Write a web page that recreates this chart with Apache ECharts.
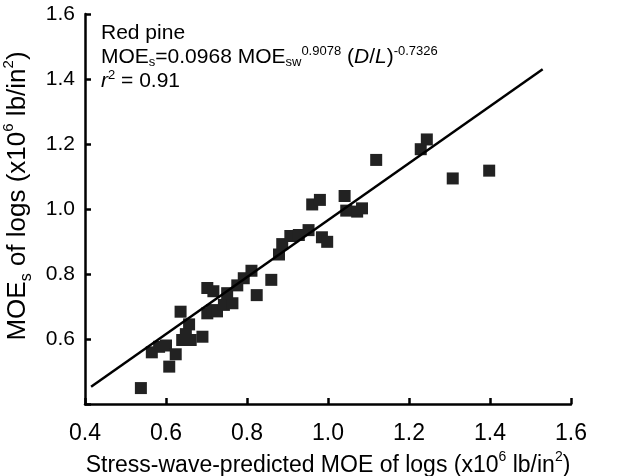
<!DOCTYPE html>
<html><head><meta charset="utf-8">
<script src="https://cdn.jsdelivr.net/npm/echarts@6/dist/echarts.min.js"></script>
<style>html,body{margin:0;padding:0;background:#fff}#c{width:619px;height:476px}</style>
</head><body><div id="c"></div>
<script>
// Stress-wave predicted MOE, x10^6 lb/in^2
const predictedMOE = [0.538,0.608,0.565,0.583,0.600,0.624,0.636,0.657,0.649,0.640,0.661,0.690,0.702,0.702,0.717,0.714,0.726,0.743,0.764,0.751,0.776,0.792,0.811,0.824,0.860,0.879,0.887,0.907,0.928,0.952,0.961,0.980,0.985,0.998,1.041,1.045,1.072,1.084,1.119,1.229,1.244,1.308,1.398];
// Static MOE of logs, x10^6 lb/in^2
const staticMOE = [0.449,0.515,0.559,0.576,0.580,0.553,0.684,0.645,0.615,0.597,0.597,0.607,0.679,0.757,0.747,0.689,0.685,0.705,0.710,0.741,0.765,0.787,0.810,0.735,0.782,0.860,0.892,0.917,0.920,0.935,1.014,1.028,0.913,0.899,1.040,0.995,0.992,1.002,1.151,1.184,1.214,1.094,1.118];
// Regression line end points
const fitX = [0.415, 1.53];
const fitY = [0.453, 1.430];
const axisMin = 0.4, axisMax = 1.6, axisStep = 0.2;

const FONT = 'Liberation Sans, Arial, sans-serif';
const points = predictedMOE.map((x, i) => [x, staticMOE[i]]);
const fitLine = fitX.map((x, i) => [x, fitY[i]]);

const chart = echarts.init(document.getElementById('c'), null, {renderer: 'canvas'});
const axisCommon = {
  type: 'value', min: axisMin, max: axisMax, interval: axisStep,
  axisLine: {show: true, onZero: false, lineStyle: {color: '#000', width: 2.5}},
  axisTick: {show: true, inside: true, length: 6, lineStyle: {color: '#000', width: 2.5}},
  splitLine: {show: false},
  nameLocation: 'middle'
};
chart.setOption({
  animation: false,
  backgroundColor: '#fff',
  grid: {left: 85, right: 48, top: 14, bottom: 72, containLabel: false, outerBoundsMode: 'none'},
  xAxis: Object.assign({}, axisCommon, {
    axisLabel: {color: '#000', fontSize: 23, fontFamily: FONT, margin: 18, formatter: v => v.toFixed(1)},
    name: 'Stress-wave-predicted MOE of logs (x10{sup|6} lb/in{sup|2})',
    nameGap: 38,
    nameTextStyle: {color: '#000', fontSize: 23, fontFamily: FONT, lineHeight: 32,
      rich: {sup: {fontSize: 14, fontFamily: FONT, color: '#000', verticalAlign: 'top', lineHeight: 16}}}
  }),
  yAxis: Object.assign({}, axisCommon, {
    axisLabel: {color: '#000', fontSize: 21, fontFamily: FONT, margin: 10, formatter: v => v < 0.5 ? '' : v.toFixed(1)},
    name: 'MOE{sub|s} of logs (x10{sup|6} lb/in{sup|2})',
    nameGap: 43,
    nameTextStyle: {color: '#000', fontSize: 26, fontFamily: FONT, lineHeight: 34, padding: [0, 0, 0, 26],
      rich: {sup: {fontSize: 15, fontFamily: FONT, color: '#000', verticalAlign: 'top', lineHeight: 17},
             sub: {fontSize: 16, fontFamily: FONT, color: '#000', verticalAlign: 'bottom', lineHeight: 14}}}
  }),
  series: [
    {type: 'scatter', data: points, symbol: 'rect', symbolSize: 12,
     itemStyle: {color: '#222', opacity: 1}, z: 3},
    {type: 'line', data: fitLine, showSymbol: false, symbol: 'none',
     lineStyle: {color: '#000', width: 2.5}, z: 4}
  ],
  graphic: [{
    type: 'text', left: 101, top: 21, z: 10,
    style: {
      text: 'Red pine\nMOE{sub|s}=0.0968 MOE{sub|sw}{sup|0.9078} ({it|D}/{it|L}){sup|-0.7326}\n{it|r}{sup|2} = 0.91',
      font: '21px ' + FONT, fill: '#000', lineHeight: 24,
      rich: {
        sub: {fontSize: 13, fontFamily: FONT, fill: '#000', verticalAlign: 'bottom', lineHeight: 14},
        sup: {fontSize: 13, fontFamily: FONT, fill: '#000', verticalAlign: 'top', lineHeight: 10},
        it: {fontSize: 21, fontFamily: FONT, fontStyle: 'italic', fill: '#000'}
      }
    }
  }]
});
</script></body></html>
